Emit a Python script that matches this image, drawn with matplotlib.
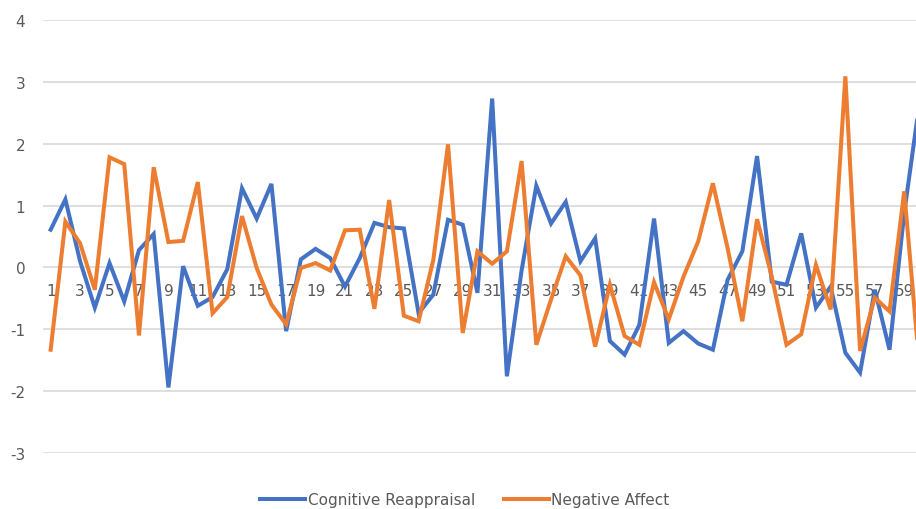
import matplotlib

matplotlib.use("Agg")
import matplotlib.pyplot as plt
import numpy as np

# scores per participant, 1..60
participants = list(range(1, 61))
cognitive_reappraisal = [
    0.61, 1.10, 0.10, -0.65, 0.07, -0.55, 0.28, 0.54, -1.94, 0.02,
    -0.62, -0.48, -0.03, 1.28, 0.79, 1.35, -1.03, 0.13, 0.30, 0.15,
    -0.31, 0.15, 0.72, 0.65, 0.63, -0.74, -0.44, 0.77, 0.69, -0.41,
    2.73, -1.76, -0.05, 1.32, 0.71, 1.06, 0.10, 0.47, -1.19, -1.41,
    -0.93, 0.79, -1.22, -1.03, -1.23, -1.33, -0.20, 0.26, 1.80, -0.23,
    -0.28, 0.55, -0.65, -0.31, -1.38, -1.70, -0.36, -1.33, 0.88, 2.60,
]
negative_affect = [
    -1.33, 0.74, 0.39, -0.36, 1.78, 1.67, -1.10, 1.62, 0.41, 0.43,
    1.38, -0.74, -0.48, 0.83, -0.01, -0.60, -0.92, -0.01, 0.07, -0.05,
    0.60, 0.61, -0.67, 1.09, -0.78, -0.87, 0.12, 1.99, -1.06, 0.26,
    0.06, 0.26, 1.72, -1.25, -0.52, 0.18, -0.13, -1.28, -0.28, -1.11,
    -1.25, -0.24, -0.84, -0.15, 0.42, 1.36, 0.31, -0.87, 0.78, -0.15,
    -1.25, -1.08, 0.04, -0.68, 3.09, -1.35, -0.49, -0.71, 1.23, -1.50,
]
y_ticks = [-3, -2, -1, 0, 1, 2, 3, 4]

BLUE = "#4472C4"
ORANGE = "#ED7D31"
GRID = "#D9D9D9"
TEXT = "#595959"

plt.rcParams["font.family"] = ["DejaVu Sans"]
plt.rcParams["axes.unicode_minus"] = False

fig = plt.figure(figsize=(9.16, 5.10), dpi=100)
W, H = 916, 510
# plot area runs past the right edge of the canvas
ax = fig.add_axes([43.3 / W, (H - 454) / H, 883 / W, (454 - 21) / H])

x = np.array(participants)
ax.plot(x, cognitive_reappraisal, color=BLUE, lw=2.9, label="Cognitive Reappraisal",
        solid_joinstyle="miter", zorder=3)
ax.plot(x, negative_affect, color=ORANGE, lw=2.9, label="Negative Affect",
        solid_joinstyle="miter", zorder=3)

ax.set_xlim(0.5, len(participants) + 0.5)
ax.set_ylim(-3, 4)
ax.set_yticks(y_ticks)
ax.set_yticklabels([str(v) for v in y_ticks])
ax.grid(axis="y", color=GRID, lw=1.2)
ax.set_axisbelow(True)

# category labels sit on the zero line
ax.spines["bottom"].set_position(("data", 0))
for side in ["top", "right", "left", "bottom"]:
    ax.spines[side].set_visible(False)
ax.set_xticks(participants[::2])
ax.set_xticklabels([str(p) for p in participants[::2]])
ax.tick_params(axis="x", length=0, pad=11, labelsize=11, labelcolor=TEXT)
ax.tick_params(axis="y", length=0, pad=13, labelsize=11, labelcolor=TEXT)

fig.legend(loc="center", bbox_to_anchor=(465 / W, (H - 501) / H), ncol=2,
           frameon=False, fontsize=11, labelcolor=TEXT, handlelength=2.95,
           handletextpad=0.15, columnspacing=1.9)

fig.savefig("out.png", dpi=100)
